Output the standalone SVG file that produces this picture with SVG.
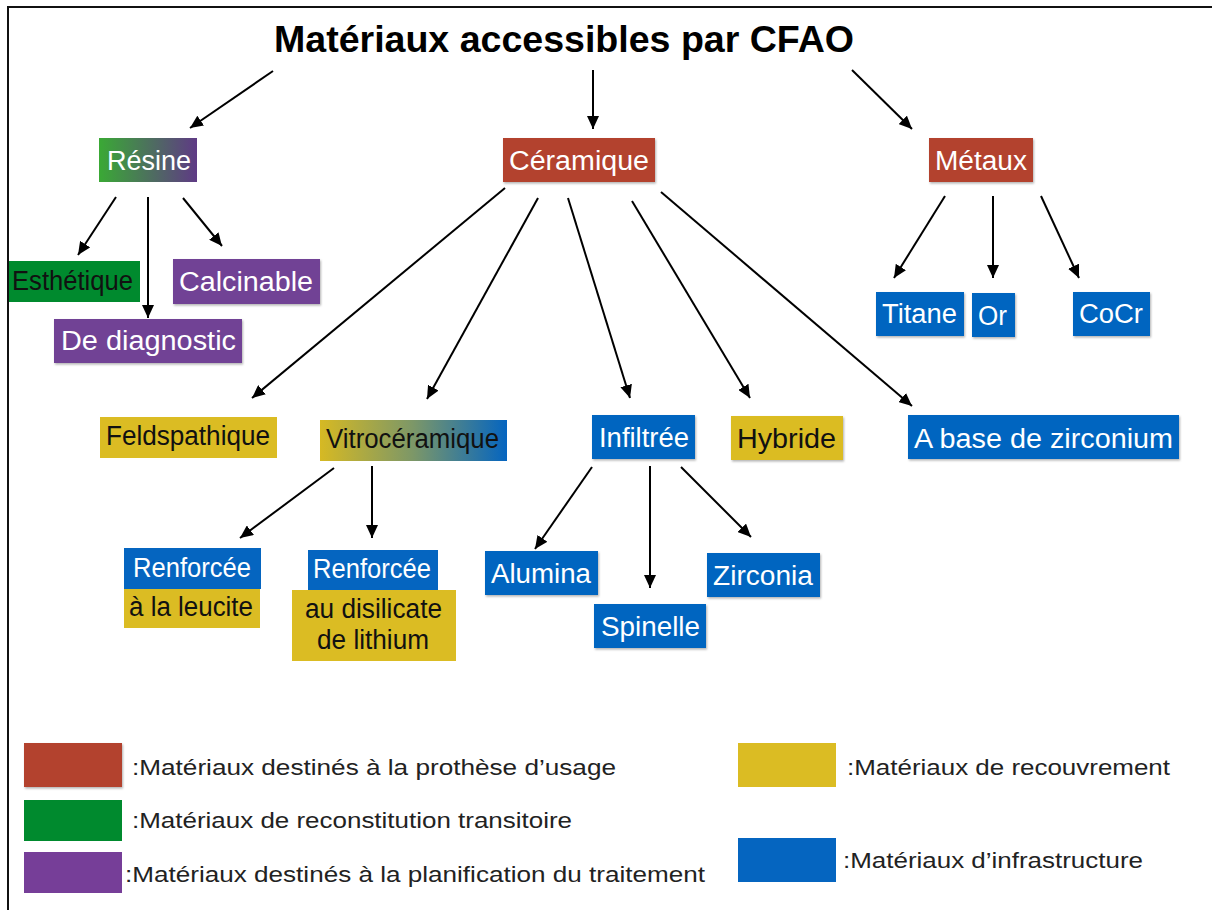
<svg xmlns="http://www.w3.org/2000/svg" width="1212" height="910" viewBox="0 0 1212 910">
<style>
.t{font-family:"Liberation Sans",Arial,sans-serif;font-size:27px;}
.w{fill:#ffffff;}
.k{fill:#111111;}
.lg{font-family:"Liberation Sans",Arial,sans-serif;font-size:22px;fill:#222222;}
.red{fill:#b3432f;}
.grn{fill:#008a2e;}
.pur{fill:#714295;}
.yel{fill:#dbbc23;}
.blu{fill:#0565c0;}
.edge{stroke:#000;stroke-width:2;fill:none;marker-end:url(#ah);}
</style>
<defs>
<marker id="ah" markerUnits="userSpaceOnUse" markerWidth="14" markerHeight="12" refX="13" refY="6" orient="auto">
<path d="M0,0 L13,6 L0,12 z" fill="#000"/>
</marker>
<linearGradient id="gRes" x1="0" y1="0" x2="1" y2="0">
<stop offset="0" stop-color="#3aa935"/>
<stop offset="1" stop-color="#5f3a85"/>
</linearGradient>
<linearGradient id="gVit" x1="0" y1="0" x2="1" y2="0">
<stop offset="0" stop-color="#d6b923"/>
<stop offset="0.5" stop-color="#7c9768"/>
<stop offset="1" stop-color="#0565c0"/>
</linearGradient>
<filter id="sh" x="-5%" y="-5%" width="112%" height="120%">
<feDropShadow dx="1" dy="1.5" stdDeviation="1" flood-color="#000" flood-opacity="0.3"/>
</filter>
</defs>
<rect x="0" y="0" width="1212" height="910" fill="#ffffff"/>
<g id="frame" stroke="#111" stroke-width="2" fill="none">
<line x1="7" y1="7" x2="1212" y2="7"/>
<line x1="8" y1="6" x2="8" y2="910"/>
</g>
<g id="title">
<text x="274" y="52" font-family="Liberation Sans,Arial,sans-serif" font-size="36" font-weight="bold" fill="#000" textLength="580" lengthAdjust="spacingAndGlyphs">Matériaux accessibles par CFAO</text>
</g>
<g id="connectors">
<line class="edge" x1="273" y1="71" x2="190" y2="128"/>
<line class="edge" x1="593" y1="70" x2="593" y2="129"/>
<line class="edge" x1="852" y1="70" x2="912" y2="129"/>
<line class="edge" x1="116" y1="197" x2="78" y2="255"/>
<line class="edge" x1="148" y1="197" x2="148" y2="318"/>
<line class="edge" x1="183" y1="198" x2="222" y2="246"/>
<line class="edge" x1="505" y1="188" x2="252" y2="398"/>
<line class="edge" x1="538" y1="198" x2="427" y2="399"/>
<line class="edge" x1="568" y1="198" x2="630" y2="398"/>
<line class="edge" x1="632" y1="201" x2="750" y2="398"/>
<line class="edge" x1="661" y1="192" x2="912" y2="406"/>
<line class="edge" x1="945" y1="196" x2="894" y2="278"/>
<line class="edge" x1="993" y1="196" x2="993" y2="278"/>
<line class="edge" x1="1041" y1="196" x2="1079" y2="278"/>
<line class="edge" x1="334" y1="468" x2="240" y2="538"/>
<line class="edge" x1="372" y1="466" x2="372" y2="538"/>
<line class="edge" x1="592" y1="467" x2="535" y2="549"/>
<line class="edge" x1="650" y1="466" x2="650" y2="588"/>
<line class="edge" x1="681" y1="467" x2="751" y2="537"/>
</g>
<g id="resine"><rect x="99" y="138" width="98" height="44" fill="url(#gRes)"/><text class="t w" x="107" y="170" textLength="84" lengthAdjust="spacingAndGlyphs">Résine</text></g>
<g id="ceramique"><rect class="red" x="503" y="138" width="152" height="44" filter="url(#sh)"/><text class="t w" x="509" y="170" textLength="140" lengthAdjust="spacingAndGlyphs">Céramique</text></g>
<g id="metaux"><rect class="red" x="929" y="138" width="104" height="44" filter="url(#sh)"/><text class="t w" x="935" y="170" textLength="92" lengthAdjust="spacingAndGlyphs">Métaux</text></g>
<g id="esthetique"><rect class="grn" x="9" y="261" width="131" height="41"/><text class="t k" x="12" y="290" textLength="121" lengthAdjust="spacingAndGlyphs">Esthétique</text></g>
<g id="calcinable"><rect class="pur" x="173" y="259" width="147" height="45" filter="url(#sh)"/><text class="t w" x="179" y="291" textLength="134" lengthAdjust="spacingAndGlyphs">Calcinable</text></g>
<g id="diagnostic"><rect class="pur" x="54" y="319" width="188" height="44" filter="url(#sh)"/><text class="t w" x="61" y="350" textLength="175" lengthAdjust="spacingAndGlyphs">De diagnostic</text></g>
<g id="titane"><rect class="blu" x="876" y="292" width="88" height="44" filter="url(#sh)"/><text class="t w" x="882" y="323" textLength="75" lengthAdjust="spacingAndGlyphs">Titane</text></g>
<g id="or"><rect class="blu" x="972" y="293" width="43" height="44" filter="url(#sh)"/><text class="t w" x="978" y="325" textLength="29" lengthAdjust="spacingAndGlyphs">Or</text></g>
<g id="cocr"><rect class="blu" x="1073" y="292" width="77" height="44" filter="url(#sh)"/><text class="t w" x="1079" y="323" textLength="64" lengthAdjust="spacingAndGlyphs">CoCr</text></g>
<g id="feldspathique"><rect class="yel" x="100" y="417" width="177" height="41"/><text class="t k" x="106" y="445" textLength="164" lengthAdjust="spacingAndGlyphs">Feldspathique</text></g>
<g id="vitroceramique"><rect x="320" y="420" width="187" height="41" fill="url(#gVit)"/><text class="t k" x="326" y="448" textLength="173" lengthAdjust="spacingAndGlyphs">Vitrocéramique</text></g>
<g id="infiltree"><rect class="blu" x="592" y="415" width="103" height="44" filter="url(#sh)"/><text class="t w" x="599" y="447" textLength="90" lengthAdjust="spacingAndGlyphs">Infiltrée</text></g>
<g id="hybride"><rect class="yel" x="731" y="416" width="112" height="44" filter="url(#sh)"/><text class="t k" x="737" y="448" textLength="99" lengthAdjust="spacingAndGlyphs">Hybride</text></g>
<g id="zirconium"><rect class="blu" x="908" y="415" width="271" height="44" filter="url(#sh)"/><text class="t w" x="914" y="448" textLength="259" lengthAdjust="spacingAndGlyphs">A base de zirconium</text></g>
<g id="leucite"><rect class="blu" x="124" y="548" width="137" height="41"/><text class="t w" x="133" y="577" textLength="118" lengthAdjust="spacingAndGlyphs">Renforcée</text><rect class="yel" x="124" y="589" width="136" height="39"/><text class="t k" x="129" y="616" textLength="124" lengthAdjust="spacingAndGlyphs">à la leucite</text></g>
<g id="disilicate"><rect class="blu" x="308" y="550" width="130" height="40"/><text class="t w" x="313" y="578" textLength="118" lengthAdjust="spacingAndGlyphs">Renforcée</text><rect class="yel" x="292" y="590" width="164" height="71"/><text class="t k" x="305" y="618" textLength="137" lengthAdjust="spacingAndGlyphs">au disilicate</text><text class="t k" x="317" y="649" textLength="112" lengthAdjust="spacingAndGlyphs">de lithium</text></g>
<g id="alumina"><rect class="blu" x="485" y="551" width="113" height="44" filter="url(#sh)"/><text class="t w" x="491" y="583" textLength="100" lengthAdjust="spacingAndGlyphs">Alumina</text></g>
<g id="spinelle"><rect class="blu" x="594" y="604" width="112" height="44" filter="url(#sh)"/><text class="t w" x="601" y="636" textLength="99" lengthAdjust="spacingAndGlyphs">Spinelle</text></g>
<g id="zirconia"><rect class="blu" x="707" y="553" width="113" height="44" filter="url(#sh)"/><text class="t w" x="713" y="585" textLength="100" lengthAdjust="spacingAndGlyphs">Zirconia</text></g>
<g id="legend">
<rect class="red" x="24" y="743" width="98" height="44" filter="url(#sh)"/>
<text class="lg" x="132" y="775" textLength="484" lengthAdjust="spacingAndGlyphs">:Matériaux destinés à la prothèse d’usage</text>
<rect class="grn" x="24" y="800" width="98" height="41"/>
<text class="lg" x="132" y="828" textLength="440" lengthAdjust="spacingAndGlyphs">:Matériaux de reconstitution transitoire</text>
<rect x="24" y="852" width="98" height="41" fill="#763e98"/>
<text class="lg" x="125" y="882" textLength="580" lengthAdjust="spacingAndGlyphs">:Matériaux destinés à la planification du traitement</text>
<rect class="yel" x="738" y="743" width="98" height="44"/>
<text class="lg" x="847" y="775" textLength="323" lengthAdjust="spacingAndGlyphs">:Matériaux de recouvrement</text>
<rect class="blu" x="738" y="838" width="98" height="44"/>
<text class="lg" x="843" y="868" textLength="300" lengthAdjust="spacingAndGlyphs">:Matériaux d’infrastructure</text>
</g>
</svg>
